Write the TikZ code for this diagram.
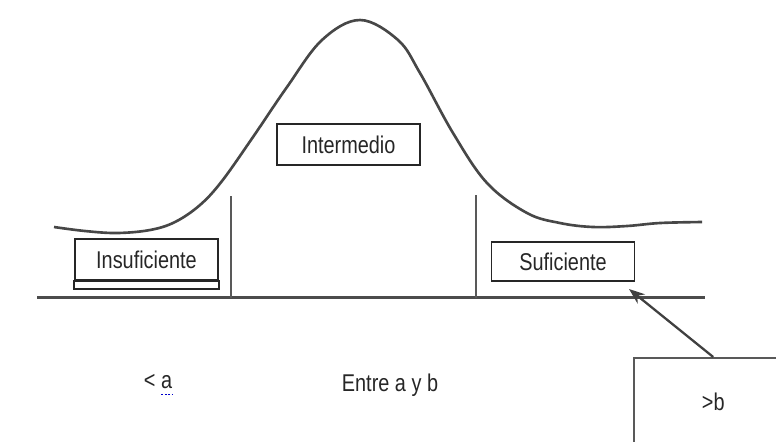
\documentclass[tikz,border=0pt]{standalone}
\usepackage{fontspec}
\setmainfont{Liberation Sans}[FakeStretch=0.82]
\usetikzlibrary{arrows.meta,calc,positioning}

\begin{document}
\begin{tikzpicture}[x=0.02cm,y=-0.02cm,
  lab/.style={font=\fontsize{13.8}{16}\selectfont,text=black!85,inner sep=0pt},
  cat/.style={lab,draw=black!85,line width=0.9pt,minimum width=2.86cm,minimum height=0.82cm},
  axis/.style={draw=black!70,line width=1.7pt}]
  \useasboundingbox (0,0) rectangle (776,441);
  \clip (0,0) rectangle (776,441);
  % bell curve
  \draw[black!72,line width=1.5pt] plot[smooth,tension=0.6] coordinates {
    (54,227) (85,231) (117,233) (150,230) (175,222) (200,205)
    (222,181) (253,137) (287,87) (322,40) (360,20)
    (398,40) (420,73) (453,133) (487,183) (527,213) (560,223)
    (593,227) (627,226) (660,223) (702,222)};
  \draw[axis] (37,297) -- (705,297);
  \draw[black!65,line width=1.2pt] (231,196) -- (231,298);
  \draw[black!65,line width=1.2pt] (476,195) -- (476,298);
  \node[cat] (inter) at (348.5,144.5) {Intermedio};
  \node[cat] (insuf) at (146.5,259.5) {Insuficiente};
  \draw[black!85,line width=0.9pt] (insuf.south west) rectangle ($(insuf.south east)+(0,8)$);
  \node[cat,minimum height=0.78cm] (suf) at (563,261.5) {Suficiente};
  \node[lab] (lta) at (158,382) {< a};
  \draw[blue!80!black,densely dotted,line width=1pt] ($(lta.south east)+(-11,5)$) -- ($(lta.south east)+(0,5)$);
  \node[lab] (entre) at (390,385) {Entre a y b};
  \node[lab,draw=black!65,line width=1.4pt,anchor=north west,minimum width=3.16cm,minimum height=1.76cm] (gtb) at (633,357) {>b};
  \coordinate (tip) at (629,289);
  \draw[-{Stealth[length=9pt]},black!75,line width=1.3pt] (gtb.north) -- (tip);
\end{tikzpicture}
\end{document}
